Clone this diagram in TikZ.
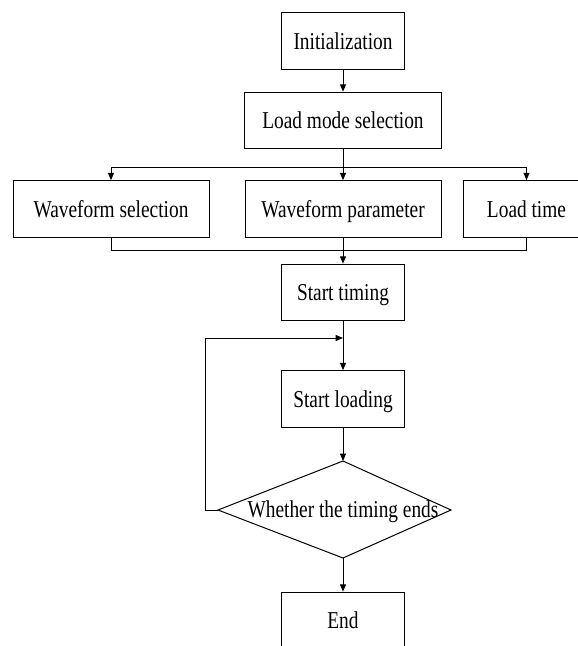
\documentclass[tikz,border=0pt]{standalone}
\usepackage{fontspec}
\setmainfont{Liberation Serif}[FakeStretch=0.8]
\usetikzlibrary{arrows.meta}

\begin{document}
\begin{tikzpicture}[x=0.75pt,y=0.75pt,yscale=-1,xscale=1,
  line width=0.75pt,
  label text/.style={font=\fontsize{18.15}{20}\selectfont, text height=12pt, text depth=0pt},
  box/.style={draw, label text, inner sep=0pt, minimum height=42.5pt},
  arr/.style={-{Triangle[length=5.5pt,width=4.5pt]}}]
%set diagram left start at 0, and has height of 646
\clip (0,0) rectangle (578,646);

% Boxes
\node [box, minimum width=92.25pt] (init) at (343,41) {Initialization};
\node [box, minimum width=147.75pt] (mode) at (343,120.5) {Load mode selection};
\node [box, minimum width=147pt] (wsel) at (111,209) {Waveform selection};
\node [box, minimum width=147pt] (wpar) at (343,209) {Waveform parameter};
\node [box, minimum width=95.25pt] (ltime) at (526.5,209) {Load time};
\node [box, minimum width=92.25pt] (stime) at (343,292.5) {Start timing};
\node [box, minimum width=92.25pt] (sload) at (343,399) {Start loading};
\node [box, minimum width=92.25pt] (fin) at (343,620.5) {End};

%Shape: Diamond
\coordinate (dtop) at (343,461);
\coordinate (dright) at (451,510);
\coordinate (dbot) at (343,558);
\coordinate (dleft) at (218,510);
\draw (dtop) -- (dright) -- (dbot) -- (dleft) -- cycle;
% Text Node
\node [label text, inner sep=0pt] (judge) at (343,509.5) {Whether the timing ends};

% Branch and merge points
\coordinate (bl) at (111,167);
\coordinate (br) at (526.5,167);
\coordinate (ml) at (111,250);
\coordinate (mr) at (526.5,250);
\coordinate (lp) at (205,338);

% Connectors
\draw [arr] (init.south) -- (mode.north);
\draw (mode.south) -- (mode.south |- bl);
\draw (bl) -- (br);
\draw [arr] (bl) -- (wsel.north);
\draw [arr] (mode.south |- bl) -- (wpar.north);
\draw [arr] (br) -- (ltime.north);
\draw (wsel.south) -- (ml) -- (mr) -- (ltime.south);
\draw (wpar.south) -- (wpar.south |- ml);
\draw [arr] (wpar.south |- ml) -- (stime.north);
\draw [arr] (stime.south) -- (sload.north);
\draw [arr] (dleft) -- (dleft -| lp) -- (lp) -- (stime.south |- lp);
\draw [arr] (sload.south) -- (dtop);
\draw [arr] (dbot) -- (fin.north);

\end{tikzpicture}
\end{document}
